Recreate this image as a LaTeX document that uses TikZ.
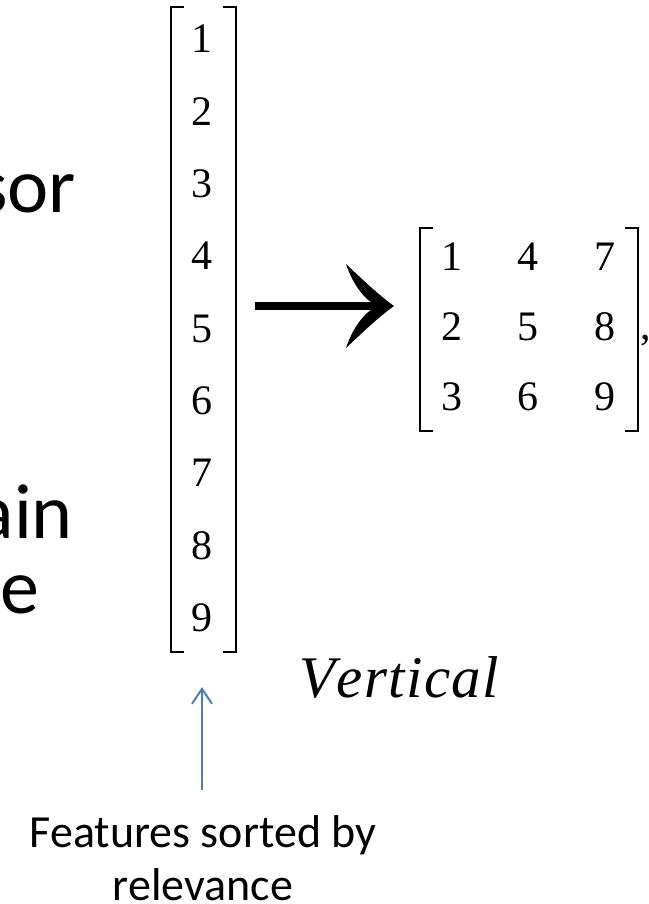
\documentclass[tikz,border=0pt]{standalone}
\usepackage{fontspec}
\setmainfont{Liberation Serif}
\newfontfamily\calibri{Carlito}
\newfontfamily\varfont{Liberation Serif}[Kerning=Off, LetterSpace=2.5]
\usetikzlibrary{arrows.meta}
\definecolor{arrowblue}{RGB}{74,126,187}
\begin{document}
\begin{tikzpicture}[x=1pt,y=-1pt,
  lbl/.style={inner sep=0pt, outer sep=0pt},
  bigtxt/.style={lbl, font=\calibri\fontsize{78}{80}\selectfont, anchor=base east},
  dig/.style={lbl, font=\fontsize{42}{44}\selectfont, anchor=base},
  brk/.style={line width=2.2pt, line cap=butt, line join=miter},
  feat/.style={lbl, font=\calibri\fontsize{46}{50}\selectfont, anchor=base},
  bluearrow/.style={arrowblue, line width=2pt, -{Straight Barb[length=15pt,width=20pt]}},
]
\useasboundingbox (0,0) rectangle (648,904);
% cut-off text on the left
\node[bigtxt] (t1) at (76,212) {sor};
\node[bigtxt] (t2) at (73,538) {ain};
\node[bigtxt] (t3) at (39,613) {e};
% column vector
\foreach \i [count=\k from 0] in {1,...,9}
  \node[dig] (v\i) at (202,{53+72.3*\k}) {\i};
\draw[brk] (184,7) -- (171,7) -- (171,652) -- (184,652);
\draw[brk] (223,7) -- (236,7) -- (236,652) -- (223,652);
% matrix
\foreach \a/\b/\c [count=\k from 0] in {1/4/7, 2/5/8, 3/6/9} {
  \node[dig] (m\a) at (452,{270+70*\k}) {\a};
  \node[dig] (m\b) at (528,{270+70*\k}) {\b};
  \node[dig] (m\c) at (605,{270+70*\k}) {\c};
}
\draw[brk] (433,228) -- (420,228) -- (420,431) -- (433,431);
\draw[brk] (625,228) -- (638,228) -- (638,431) -- (625,431);
\node[dig, anchor=base west] (cm) at (640,339) {,};
% big arrow
\coordinate (as) at (255,306);
\coordinate (ae) at (372,306);
\coordinate (tip) at (394,306);
\draw[line width=8pt] (as) -- (ae);
\fill (tip) .. controls (380,296) and (365,282) .. (346,264)
  .. controls (352,282) and (362,296) .. (371,302) -- (371,310)
  .. controls (362,316) and (352,330) .. (346,348)
  .. controls (365,330) and (380,316) .. (tip) -- cycle;
% label
\node[lbl, font=\varfont\itshape\fontsize{59}{62}\selectfont, anchor=base west] (vt) at (299,697) {Vertical};
% features
\coordinate (bb) at (202,790);
\coordinate (bh) at (202,687);
\draw[bluearrow] (bb) -- (bh);
\node[feat] (f1) at (203,847) {Features sorted by};
\node[feat] (f2) at (203,900) {relevance};
\end{tikzpicture}
\end{document}
